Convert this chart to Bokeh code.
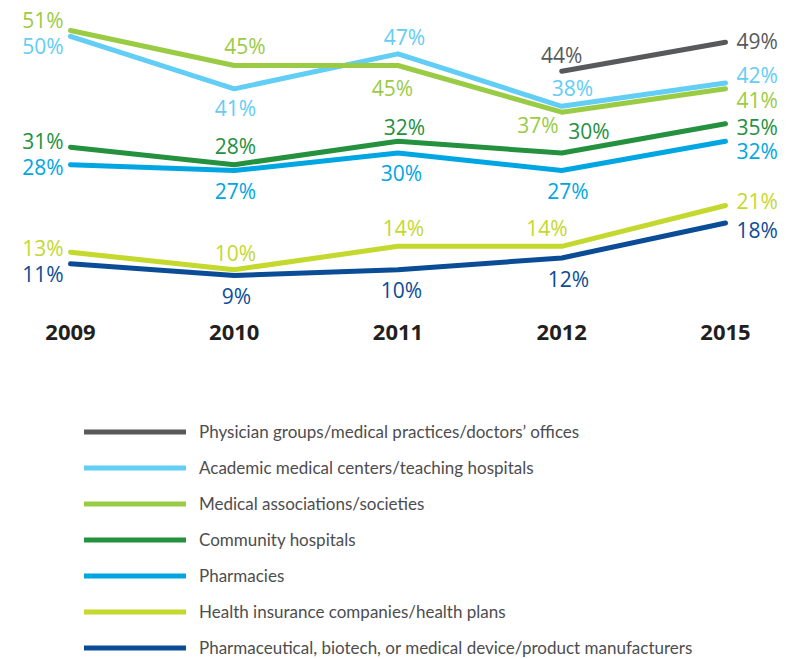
import math
from bokeh.plotting import figure
from bokeh.models import ColumnDataSource, Range1d, Legend, LegendItem
from bokeh.core.properties import value
from bokeh.embed import file_html
from bokeh.resources import INLINE

NaN = float("nan")

# ---------------- data ----------------
years = ["2009", "2010", "2011", "2012", "2015"]

series_names = [
    "Physician groups/medical practices/doctors\u2019 offices",
    "Academic medical centers/teaching hospitals",
    "Medical associations/societies",
    "Community hospitals",
    "Pharmacies",
    "Health insurance companies/health plans",
    "Pharmaceutical, biotech, or medical device/product manufacturers",
]

physician = [NaN, NaN, NaN, 44, 49]
academic = [50, 41, 47, 38, 42]
medical = [51, 45, 45, 37, 41]
community = [31, 28, 32, 30, 35]
pharmacies = [28, 27, 30, 27, 32]
insurance = [13, 10, 14, 14, 21]
manufacturers = [11, 9, 10, 12, 18]

series_values = [physician, academic, medical, community, pharmacies, insurance, manufacturers]

# ---------------- styles ----------------
colors = ["#58595B", "#62CDF5", "#9ACB45", "#23913E", "#00A6E2", "#C4D82E", "#0B4C96"]

# label offsets in screen pixels (dx, dy) per series per year
offsets = [
    [None, None, None, (0, -16.3), (11, -1.2)],
    [(-7, 9.7), (1.25, 19.2), (6.5, -17.3), (10.75, -18.3), (11, -8)],
    [(-7, -10.5), (10.75, -19.5), (-5.5, 22.5), (-23.75, 12.8), (11, 10.7)],
    [(-7, -5.7), (1.25, -18.2), (6.5, -14.8), (27.25, -21.8), (11, 2.7)],
    [(-7, 2.8), (1.25, 20.5), (3.5, 20.0), (6.25, 20.5), (11, 9.2)],
    [(-7, -4.2), (1.25, -16.7), (5.5, -18.3), (-14.75, -18.3), (11, -4.5)],
    [(-7, 10.2), (2.25, 20.5), (3.5, 20.3), (6.75, 21.0), (11, 7.0)],
]

W, H = 793, 659
p = figure(width=W, height=H, output_backend="svg", toolbar_location=None,
           x_range=Range1d(-0.42748, 4.41527), y_range=Range1d(-56.829, 56.143),
           min_border=0, min_border_left=0, min_border_right=0,
           min_border_top=0, min_border_bottom=0)
p.axis.visible = False
p.grid.visible = False
p.outline_line_color = None
p.background_fill_color = "white"
p.border_fill_color = "white"

xs = list(range(len(years)))

renderers = []
for vals, col in zip(series_values, colors):
    r = p.line(xs, vals, line_color=col, line_width=5, line_cap="round", line_join="round")
    renderers.append(r)

# value labels
groups = {"right": {}, "center": {}, "left": {}}
for g in groups:
    groups[g] = dict(x=[], y=[], text=[], dx=[], dy=[], color=[])
last = len(years) - 1
for vals, col, offs in zip(series_values, colors, offsets):
    for i, v in enumerate(vals):
        if v is None or (isinstance(v, float) and math.isnan(v)):
            continue
        g = "right" if i == 0 else ("left" if i == last else "center")
        d = groups[g]
        d["x"].append(i)
        d["y"].append(v)
        d["text"].append(f"{v}%")
        d["dx"].append(offs[i][0])
        d["dy"].append(offs[i][1])
        d["color"].append(col)

for g, d in groups.items():
    src = ColumnDataSource(d)
    p.text(x="x", y="y", text="text", source=src, x_offset="dx", y_offset="dy",
           text_color="color", text_align=g, text_baseline="middle",
           text_font=value("Open Sans"), text_font_size="21px")

# year labels
ysrc = ColumnDataSource(dict(x=xs, y=[0] * len(years), text=years))
p.text(x="x", y="y", text="text", source=ysrc, y_offset=5,
       text_color="#231F20", text_align="center", text_baseline="middle",
       text_font=value("Open Sans"), text_font_size="22px", text_font_style="bold")

legend = Legend(
    items=[LegendItem(label=n, renderers=[r]) for n, r in zip(series_names, renderers)],
    location=(84, 1),
    orientation="vertical",
    glyph_width=102, glyph_height=21, label_height=21,
    spacing=15, padding=0, margin=0, label_standoff=13,
    label_text_font="Lato", label_text_font_size="17px", label_text_color="#4D4D4F",
    border_line_color=None, background_fill_alpha=0,
)
p.add_layout(legend)

open("out.html", "w").write(file_html(p, INLINE))
